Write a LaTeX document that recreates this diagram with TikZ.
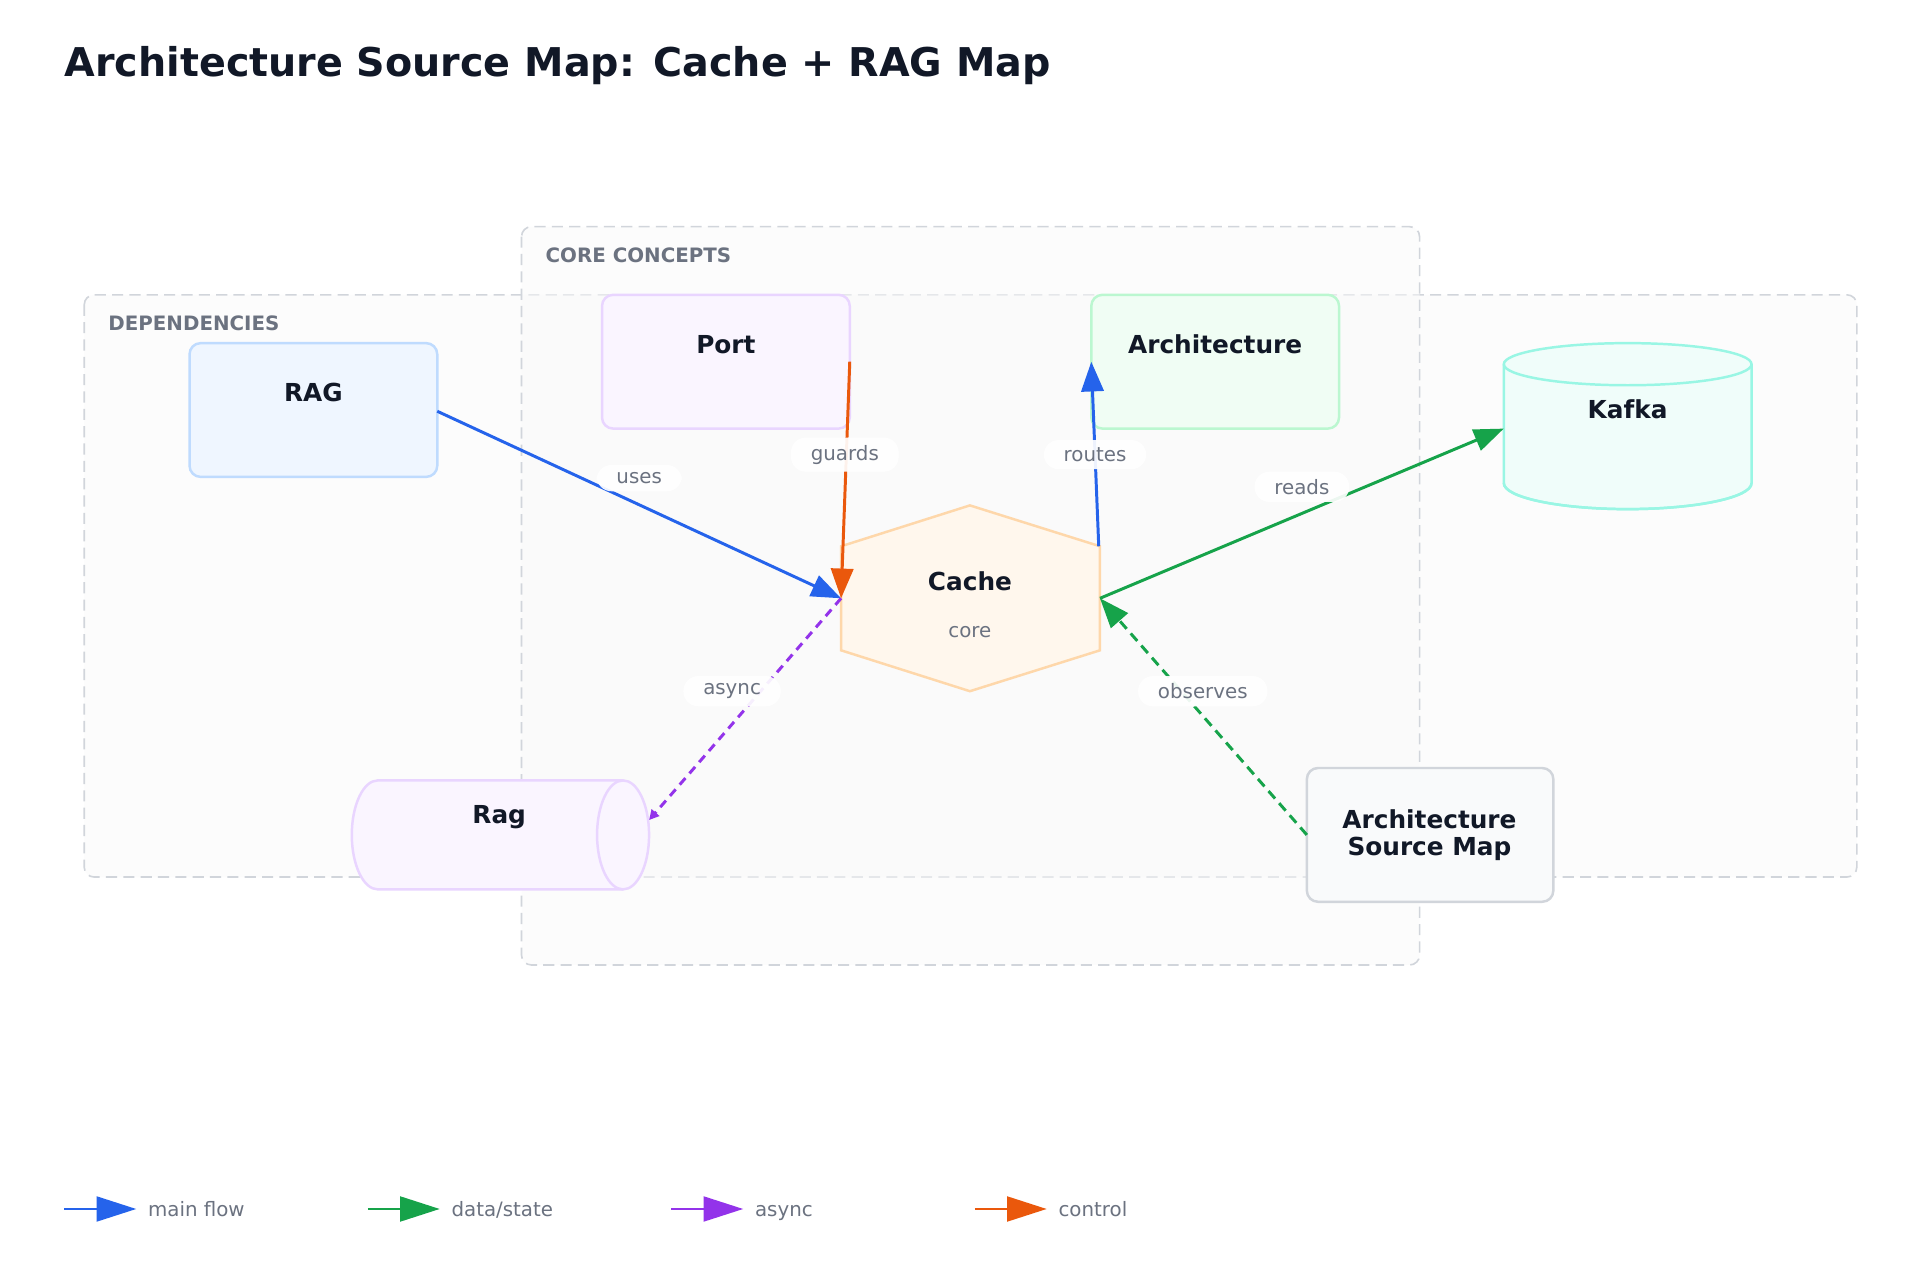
\documentclass[tikz,border=0pt]{standalone}
\usepackage{fontspec}
\setmainfont{DejaVu Sans}
\usetikzlibrary{arrows.meta,shapes.geometric}
\definecolor{txt}{HTML}{111827}
\definecolor{mut}{HTML}{6B7280}
\definecolor{grp}{HTML}{D1D5DB}
\definecolor{cblue}{HTML}{2563EB}
\definecolor{cgreen}{HTML}{16A34A}
\definecolor{cpurple}{HTML}{9333EA}
\definecolor{corange}{HTML}{EA580C}
\definecolor{kaf}{HTML}{99F6E4}
\definecolor{kaff}{HTML}{F0FDFA}
\definecolor{bls}{HTML}{BFDBFE}
\definecolor{blf}{HTML}{EFF6FF}
\definecolor{pus}{HTML}{E9D5FF}
\definecolor{puf}{HTML}{FAF5FF}
\definecolor{grs}{HTML}{BBF7D0}
\definecolor{grf}{HTML}{F0FDF4}
\definecolor{ors}{HTML}{FED7AA}
\definecolor{orf}{HTML}{FFF7ED}
\definecolor{gys}{HTML}{D1D5DB}
\definecolor{gyf}{HTML}{F9FAFB}
\tikzset{
 x=1pt,y=-1pt,
 grpbox/.style={draw=grp,dash pattern=on 9pt off 5pt,line width=1.3pt,rounded corners=8pt,fill=gray!4,fill opacity=0.5},
 grplab/.style={anchor=west,text=mut,font=\bfseries\fontsize{16}{19}\selectfont},
 box/.style={line width=2pt,rounded corners=9pt},
 ttl/.style={text=txt,font=\bfseries\fontsize{20}{24}\selectfont,align=center},
 elab/.style={fill=white,fill opacity=0.92,text opacity=1,rounded corners=12pt,text=mut,font=\fontsize{16}{19}\selectfont,inner xsep=16pt,inner ysep=6pt},
 tip/.style={-{Triangle[length=24pt,width=18pt]}},
 e/.style={line width=2.4pt,tip},
}
\begin{document}
\begin{tikzpicture}
\useasboundingbox (0,0) rectangle (1550,1033);
\fill[white] (0,0) rectangle (1550,1033);
\node[anchor=base west,inner sep=0pt,text=txt,font=\bfseries\fontsize{32}{36}\selectfont] (title) at (52,62) {Architecture Source Map: Cache + RAG Map};
% groups
\draw[grpbox] (68,238) rectangle (1499,708);
\node[grplab] (gdep) at (84,261) {DEPENDENCIES};
\draw[grpbox] (421,183) rectangle (1146,779);
\node[grplab] (gcore) at (437,206) {CORE CONCEPTS};
% nodes
\draw[box,draw=bls,fill=blf] (153,277) rectangle (353,385);
\node[ttl] (rag) at (253,317) {RAG};
\coordinate (ragE) at (353,332);
\draw[box,draw=pus,fill=puf] (486,238) rectangle (686,346);
\node[ttl] (port) at (586,278) {Port};
\coordinate (portE) at (686,292);
\draw[box,draw=grs,fill=grf] (881,238) rectangle (1081,346);
\node[ttl] (arch) at (981,278) {Architecture};
\coordinate (archW) at (881,292);
% kafka
\draw[line width=2pt,draw=kaf,fill=kaff] (1214,294) -- (1214,390) arc[start angle=180,end angle=360,x radius=100,y radius=-21] -- (1414,294) arc[start angle=0,end angle=180,x radius=100,y radius=-17] -- cycle;
\draw[line width=2pt,draw=kaf] (1214,390) arc[start angle=180,end angle=0,x radius=100,y radius=21];
\draw[line width=2pt,draw=kaf] (1214,294) arc[start angle=180,end angle=360,x radius=100,y radius=-17];
\node[ttl] (kafka) at (1314,330) {Kafka};
\coordinate (kafkaW) at (1214,346);
% cache
\draw[line width=2pt,draw=ors,fill=orf] (783,408) -- (888,441) -- (888,525) -- (783,558) -- (679,525) -- (679,441) -- cycle;
\node[ttl] (cache) at (783,469) {Cache};
\node[text=mut,font=\fontsize{16}{19}\selectfont] (core) at (783,510) {core};
\coordinate (cW) at (679,483);
\coordinate (cE) at (888,483);
\coordinate (cNE) at (887,441);
% rag cylinder
\draw[line width=2pt,draw=pus,fill=puf] (305,630) -- (503,630) arc[start angle=90,end angle=-90,x radius=21,y radius=-44] -- (305,718) arc[start angle=270,end angle=90,x radius=21,y radius=-44];
\draw[line width=2pt,draw=pus] (503,630) arc[start angle=90,end angle=270,x radius=21,y radius=-44];
\node[ttl] (rag2) at (403,660) {Rag};
\coordinate (rag2E) at (524,662);
% asm
\draw[box,draw=gys,fill=gyf] (1055,620) rectangle (1254,728);
\node[ttl,font=\bfseries\fontsize{20}{22}\selectfont] (asm) at (1154,674) {Architecture\\Source Map};
\coordinate (asmW) at (1055,674);
% edges
\draw[e,cblue] (ragE) -- (cW);
\node[elab] (luses) at (516,386) {uses};
\draw[e,corange] (portE) -- (cW);
\node[elab] (lguards) at (682,367) {guards};
\draw[e,cblue] (cNE) -- (archW);
\node[elab] (lroutes) at (884,367) {routes};
\draw[e,cgreen] (cE) -- (kafkaW);
\node[elab] (lreads) at (1051,393) {reads};
\draw[line width=2.4pt,cpurple,dash pattern=on 7pt off 5pt,-{Triangle[length=8pt,width=8pt]}] (cW) -- (rag2E);
\node[elab] (lasync) at (591,558) {async};
\draw[e,cgreen,dash pattern=on 8pt off 5pt] (asmW) -- (cE);
\node[elab] (lobs) at (971,558) {observes};
% legend
\foreach \x/\c/\t/\n in {52/cblue/main flow/l1,297/cgreen/data\slash state/l2,542/cpurple/async/l3,787/corange/control/l4}{
 \coordinate (\n a) at (\x,976);
 \coordinate (\n b) at (\x+58,976);
 \draw[line width=2.2pt,\c,-{Triangle[length=32pt,width=20pt]}] (\n a) -- (\n b);
 \node[anchor=base west,text=mut,font=\fontsize{16}{19}\selectfont] (\n t) at (\x+64,982) {\t};
}
\end{tikzpicture}
\end{document}
